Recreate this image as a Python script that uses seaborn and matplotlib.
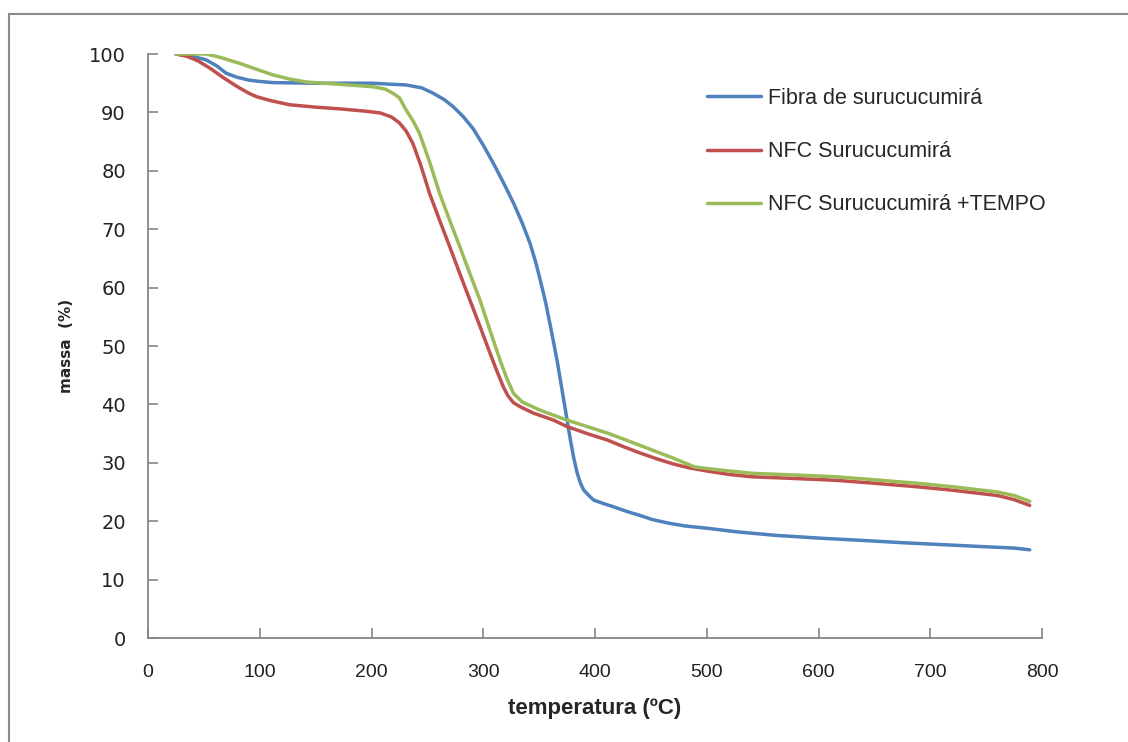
import numpy as np
import pandas as pd
import matplotlib
matplotlib.use("Agg")
import matplotlib.pyplot as plt
import seaborn as sns
from matplotlib.patches import Rectangle

# Data (temperature °C, mass %)
fibra_T = [25, 40, 52, 62, 70, 80, 91, 100, 112, 150, 201, 220, 231, 245, 255, 265, 273, 282,
           291, 300, 309, 318, 327, 335, 342, 347, 351, 356, 360, 366, 372, 378, 381, 384,
           387, 390, 395, 399, 408, 416, 428, 440, 451, 465, 480, 500, 526, 560, 601, 640,
           677, 720, 752, 775, 789]
fibra_M = [100, 99.6, 99, 97.9, 96.7, 96, 95.5, 95.3, 95.1, 95, 95, 94.8, 94.7, 94.2, 93.3, 92.2, 91, 89.3,
           87.2, 84.4, 81.3, 78.0, 74.5, 71.0, 67.5, 64.3, 61.3, 57.3, 53.5, 47.6, 40.8, 33.9, 30.8, 28.3,
           26.5, 25.3, 24.3, 23.6, 23, 22.5, 21.7, 21, 20.3, 19.7, 19.2, 18.8, 18.2, 17.6, 17.1, 16.7,
           16.3, 15.9, 15.6, 15.4, 15.1]

nfc_T = [25, 35, 45, 56, 67, 80, 90, 97, 110, 127, 150, 172, 195, 208, 218, 225, 231, 237, 244,
         252, 261, 270, 279, 288, 297, 306, 312, 318, 322, 327, 333, 345, 363, 375, 393, 411,
         425, 440, 455, 470, 485, 500, 520, 541, 580, 616, 650, 688, 720, 760, 775, 789]
nfc_M = [100, 99.6, 98.8, 97.5, 96, 94.4, 93.3, 92.7, 92, 91.3, 90.9, 90.6, 90.2, 89.9, 89.2, 88.2, 86.8, 84.7, 81,
         76.1, 71.5, 67, 62.4, 57.9, 53.4, 48.8, 45.8, 43, 41.5, 40.3, 39.6, 38.5, 37.3, 36.2, 35, 33.9,
         32.8, 31.7, 30.7, 29.8, 29.1, 28.6, 28, 27.6, 27.3, 27.0, 26.5, 25.9, 25.3, 24.4, 23.7, 22.7]

tempo_T = [25, 40, 52, 65, 82, 97, 112, 127, 142, 172, 201, 212, 219, 225, 231, 237, 243, 252,
           261, 270, 279, 288, 297, 306, 315, 321, 327, 335, 351, 375, 393, 411, 425, 440, 455,
           470, 489, 510, 541, 580, 616, 650, 688, 720, 760, 775, 789]
tempo_M = [100, 100, 100, 99.4, 98.4, 97.4, 96.4, 95.7, 95.2, 94.8, 94.4, 94, 93.3, 92.5, 90.4, 88.6, 86.4, 81.5,
           76.1, 71.5, 67, 62.4, 57.9, 52.7, 47.6, 44.5, 41.9, 40.4, 39, 37.3, 36.2, 35.1, 34.1, 33, 31.9,
           30.8, 29.3, 28.8, 28.2, 27.9, 27.6, 27.1, 26.5, 25.9, 25, 24.4, 23.4]

series_names = ["Fibra de surucucumirá", "NFC Surucucumirá", "NFC Surucucumirá +TEMPO"]
colors = ["#4F81BD", "#C0504D", "#9BBB59"]
x_ticks = [0, 100, 200, 300, 400, 500, 600, 700, 800]
y_ticks = [0, 10, 20, 30, 40, 50, 60, 70, 80, 90, 100]

df = pd.concat([
    pd.DataFrame({"T": fibra_T, "M": fibra_M, "serie": series_names[0]}),
    pd.DataFrame({"T": nfc_T, "M": nfc_M, "serie": series_names[1]}),
    pd.DataFrame({"T": tempo_T, "M": tempo_M, "serie": series_names[2]}),
])

sns.set_theme(style="white")
plt.rcParams["font.family"] = ["DejaVu Sans"]

fig = plt.figure(figsize=(11.28, 7.42), dpi=100)
ax = fig.add_axes([148 / 1128, 104 / 742, 894 / 1128, 584 / 742])

sns.lineplot(data=df, x="T", y="M", hue="serie", palette=colors, hue_order=series_names,
             linewidth=2.5, ax=ax, sort=False, estimator=None)

ax.set_xlim(0, 800)
ax.set_ylim(0, 100)
ax.set_xticks(x_ticks)
ax.set_yticks(y_ticks)
ax.set_xticklabels([str(v) for v in x_ticks], fontsize=14, family="Liberation Sans", color="#222222")
ax.set_yticklabels([str(v) for v in y_ticks], fontsize=14, family="DejaVu Sans", color="#222222")
ax.tick_params(axis="both", which="major", direction="in", length=7, width=1.2,
               color="#868686", bottom=True, left=True)
ax.tick_params(axis="x", pad=19)
ax.tick_params(axis="y", pad=16)

for side in ["top", "right"]:
    ax.spines[side].set_visible(False)
for side in ["left", "bottom"]:
    ax.spines[side].set_color("#868686")
    ax.spines[side].set_linewidth(1.3)

ax.set_xlabel("temperatura (ºC)", fontsize=16, fontweight="bold", family="Liberation Sans", labelpad=12)
ax.set_ylabel("massa  (%)", fontsize=11, fontweight="bold", family="DejaVu Sans", labelpad=11)

leg = ax.legend(loc="upper left", bbox_to_anchor=(0.604, 0.975), frameon=False,
                handlelength=2.5, handletextpad=0.3, labelspacing=1.49,
                prop={"family": "Liberation Sans", "size": 15.5})
for line in leg.get_lines():
    line.set_linewidth(2.5)

# Outer chart border (top and left visible in the reference)
fig.patches.append(Rectangle((9 / 1128, -0.05), 1.2, (742 - 14) / 742 + 0.05,
                             transform=fig.transFigure, fill=False,
                             edgecolor="#8a8a8a", linewidth=1.5))

fig.savefig("out.png", dpi=100)
